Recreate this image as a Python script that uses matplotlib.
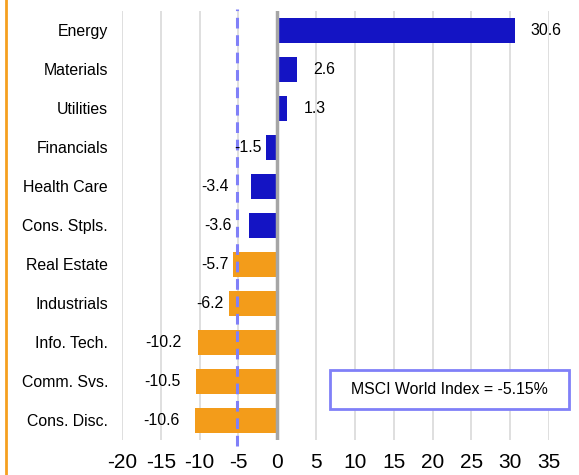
import numpy as np
import matplotlib.pyplot as plt
from matplotlib.patches import Rectangle
from matplotlib.lines import Line2D

plt.rcParams['font.family'] = ['Liberation Sans', 'DejaVu Sans']

# Data
sectors = ['Energy', 'Materials', 'Utilities', 'Financials', 'Health Care',
           'Cons. Stpls.', 'Real Estate', 'Industrials', 'Info. Tech.',
           'Comm. Svs.', 'Cons. Disc.']
returns = [30.6, 2.6, 1.3, -1.5, -3.4, -3.6, -5.7, -6.2, -10.2, -10.5, -10.6]
index_return = -5.15
index_label = 'MSCI World Index = -5.15%'
xticks = np.arange(-20, 36, 5)

# colours: first six blue, rest orange
blue = '#1414c4'
orange = '#f39c1a'
colors = [blue] * 6 + [orange] * 5

# label gaps in points (how far the value text sits from the bar end)
label_gap = [11.5, 11.5, 12, 3, 16, 13, 3, 4, 12, 11, 11]

fig = plt.figure(figsize=(5.79, 4.75), dpi=100)
ax = fig.add_axes([0.2107, 0.0737, 0.7375, 0.9032])

y = np.arange(len(sectors))
ax.barh(y, returns, height=0.64, color=colors, zorder=3)

for i, v in enumerate(returns):
    if v >= 0:
        ax.annotate(f'{v:.1f}', (v, i), xytext=(label_gap[i], 0),
                    textcoords='offset points', ha='left', va='center',
                    fontsize=11.4, zorder=5)
    else:
        ax.annotate(f'{v:.1f}', (v, i), xytext=(-label_gap[i], 0),
                    textcoords='offset points', ha='right', va='center',
                    fontsize=11.4, zorder=5)

# zero line and index line
ax.axvline(0, color='#a6a6a6', lw=2.5, zorder=4)
ax.axvline(index_return, color='#8080f8', lw=2.2, ls=(0, (3.5, 2.2)), zorder=4,
           ymin=-0.015, ymax=1.005, clip_on=False)

ax.set_xlim(-20, 35)
ax.set_ylim(10.5, -0.49)
ax.set_xticks(xticks)
ax.set_xticklabels([str(t) for t in xticks], fontsize=15)
ax.set_yticks(y)
ax.set_yticklabels(sectors, fontsize=11.4)
ax.tick_params(axis='both', length=0)
ax.tick_params(axis='y', pad=10)
ax.tick_params(axis='x', pad=9.5)
ax.grid(axis='x', color='#d9d9d9', lw=1.2, zorder=0)
for s in ax.spines.values():
    s.set_visible(False)

# index box
fig.patches.append(Rectangle((330 / 579, 1 - 409 / 475), 239 / 579, 39 / 475,
                             transform=fig.transFigure, facecolor='white',
                             edgecolor='#8080f8', lw=2, zorder=10))
fig.text(449.5 / 579, 1 - 389.5 / 475, index_label, ha='center', va='center',
         fontsize=11.4, zorder=11)

# orange left border
fig.lines.append(Line2D([6 / 579, 6 / 579], [0, 1], transform=fig.transFigure,
                        color='#f5a020', lw=2))

plt.savefig('out.png', dpi=100)
